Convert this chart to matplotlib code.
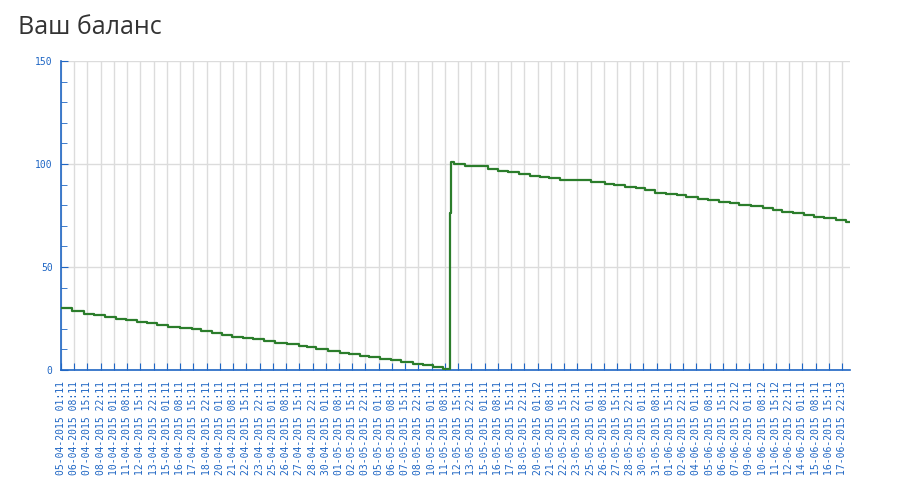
import matplotlib
matplotlib.use("Agg")
import matplotlib.pyplot as plt
from matplotlib.ticker import MultipleLocator

# Tick labels (category axis, one every 31 samples)
tick_labels = [
    "05-04-2015 01:11", "06-04-2015 08:11", "07-04-2015 15:11", "08-04-2015 22:11",
    "10-04-2015 01:11", "11-04-2015 08:11", "12-04-2015 15:11", "13-04-2015 22:11",
    "15-04-2015 01:11", "16-04-2015 08:11", "17-04-2015 15:11", "18-04-2015 22:11",
    "20-04-2015 01:11", "21-04-2015 08:11", "22-04-2015 15:11", "23-04-2015 22:11",
    "25-04-2015 01:11", "26-04-2015 08:11", "27-04-2015 15:11", "28-04-2015 22:11",
    "30-04-2015 01:11", "01-05-2015 08:11", "02-05-2015 15:11", "03-05-2015 22:11",
    "05-05-2015 01:11", "06-05-2015 08:11", "07-05-2015 15:11", "08-05-2015 22:11",
    "10-05-2015 01:11", "11-05-2015 08:11", "12-05-2015 15:11", "13-05-2015 22:11",
    "15-05-2015 01:11", "16-05-2015 08:11", "17-05-2015 15:11", "18-05-2015 22:11",
    "20-05-2015 01:12", "21-05-2015 08:11", "22-05-2015 15:11", "23-05-2015 22:11",
    "25-05-2015 01:11", "26-05-2015 08:11", "27-05-2015 15:11", "28-05-2015 22:11",
    "30-05-2015 01:11", "31-05-2015 08:11", "01-06-2015 15:11", "02-06-2015 22:11",
    "04-06-2015 01:11", "05-06-2015 08:11", "06-06-2015 15:11", "07-06-2015 22:12",
    "09-06-2015 01:11", "10-06-2015 08:12", "11-06-2015 15:12", "12-06-2015 22:11",
    "14-06-2015 01:11", "15-06-2015 08:11", "16-06-2015 15:11", "17-06-2015 22:13",
]

# Balance step changes: position (in tick-label units) and new balance value
change_pos = [
    0.0, 0.85, 1.76, 2.51, 3.32, 4.15, 4.91, 5.71, 6.47, 7.22, 8.10, 8.98, 9.86,
    10.60, 11.37, 12.13, 12.88, 13.76, 14.50, 15.30, 16.15, 17.10, 18.00, 18.60,
    19.30, 20.20, 21.06, 21.76, 22.57, 23.27, 24.08, 24.96, 25.70, 26.60, 27.35,
    28.10, 28.85, 29.35, 29.40, 29.46, 29.70, 30.50, 32.25, 33.00, 33.76, 34.60,
    35.45, 36.15, 36.90, 37.70, 40.05, 41.06, 41.80, 42.57, 43.45, 44.08, 44.90,
    45.70, 46.50, 47.20, 48.10, 48.85, 49.70, 50.50, 51.25, 52.10, 53.00, 53.75,
    54.50, 55.30, 56.15, 56.90, 57.66, 58.54, 59.30, 59.60,
]
balance = [
    30.0, 28.6, 27.3, 26.9, 25.9, 24.9, 24.4, 23.5, 23.0, 22.0, 21.0, 20.5, 19.7,
    18.8, 18.1, 17.1, 16.2, 15.7, 14.9, 13.9, 13.3, 12.5, 11.5, 11.0,
    10.2, 9.4, 8.4, 7.6, 6.9, 6.2, 5.3, 4.9, 3.9, 3.1, 2.4,
    1.6, 0.5, 26.0, 76.0, 101.0, 99.8, 99.2, 97.4, 96.8, 96.0, 95.3,
    94.3, 93.5, 93.0, 92.1, 91.1, 90.5, 89.7, 88.8, 88.3, 87.3, 86.1,
    85.4, 84.8, 83.8, 83.2, 82.4, 81.6, 80.9, 80.1, 79.5, 78.5, 77.5,
    76.9, 76.1, 75.2, 74.4, 73.6, 72.8, 72.0, 72.0,
]

title = "Ваш баланс"
blue = "#1f66c4"
green = "#2b7d2b"
grid = "#dcdcdc"

fig = plt.figure(figsize=(9, 5), dpi=100)
ax = fig.add_axes([61 / 900, 1 - 370 / 500, (850 - 61) / 900, (370 - 61) / 500])

ax.step(change_pos, balance, where="post", color=green, linewidth=1.6, zorder=3)

ax.set_xlim(0, 59.6)
ax.set_ylim(0, 150)

ax.set_xticks(range(len(tick_labels)))
ax.set_xticklabels(tick_labels, rotation=90,
                   family="DejaVu Sans Mono", fontsize=7, color=blue)
ax.yaxis.set_major_locator(MultipleLocator(50))
ax.yaxis.set_minor_locator(MultipleLocator(10))
for lbl in ax.get_yticklabels():
    lbl.set_family("DejaVu Sans Mono")
ax.tick_params(axis="y", which="major", labelsize=7, labelcolor=blue,
               color=blue, direction="in", length=5, pad=6)
ax.tick_params(axis="y", which="minor", color=blue, direction="in", length=4)
ax.tick_params(axis="x", which="major", color=blue, direction="in", length=5,
               pad=8)

ax.grid(True, which="major", color=grid, linewidth=1.0, zorder=0)
ax.set_axisbelow(True)

for side in ("top", "right"):
    ax.spines[side].set_visible(False)
for side in ("left", "bottom"):
    ax.spines[side].set_color(blue)
    ax.spines[side].set_linewidth(1.2)

fig.text(18 / 900, 1 - 28 / 500, title, fontsize=18, color="#333333",
         family="Open Sans", va="center", ha="left")

fig.savefig("out.png", dpi=100)
